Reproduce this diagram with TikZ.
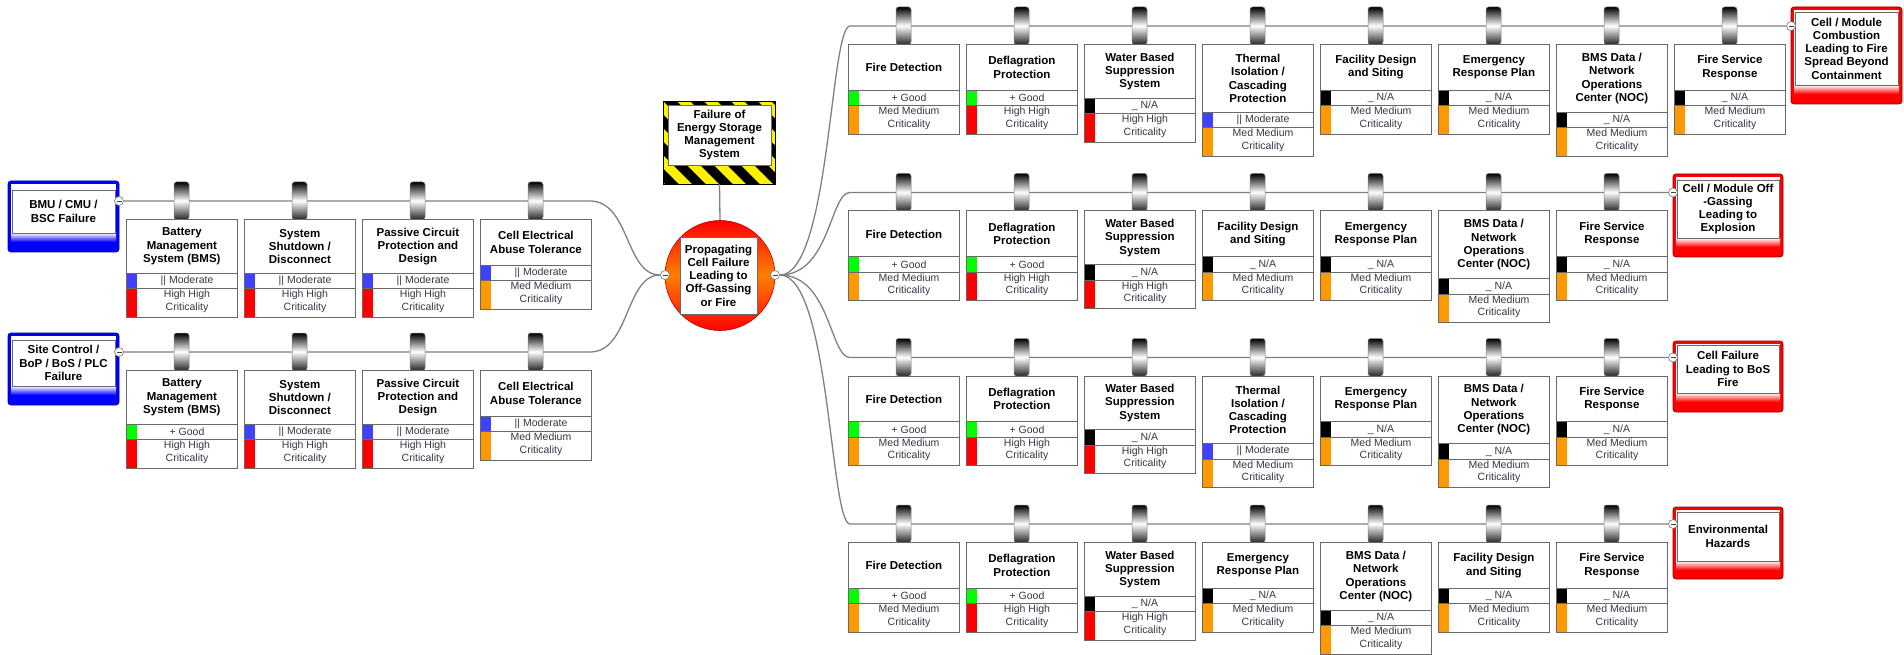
\documentclass[tikz,border=0pt]{standalone}
\usepackage{fontspec}
\setmainfont{Liberation Sans}
\usetikzlibrary{calc}
\definecolor{cgood}{RGB}{0,255,0}
\definecolor{cmod}{RGB}{64,64,255}
\definecolor{cna}{RGB}{0,0,0}
\definecolor{chigh}{RGB}{255,0,0}
\definecolor{cmed}{RGB}{255,153,0}
\definecolor{linec}{RGB}{128,128,128}
\definecolor{boxline}{RGB}{105,105,105}
\definecolor{rowtext}{RGB}{55,55,70}
\definecolor{evblue}{RGB}{0,0,255}
\definecolor{evred}{RGB}{255,0,0}
\tikzset{
  conn/.style={draw=linec, line width=1.3pt},
  titlebox/.style={draw=boxline, fill=white, line width=0.8pt, anchor=north west,
    minimum width=111pt, inner sep=1pt, align=center,
    font=\fontsize{11.5}{13.3}\selectfont\bfseries},
  rowtxt/.style={font=\fontsize{10.5}{12.3}\selectfont, text=rowtext, align=center, inner sep=0pt},
  evtext/.style={font=\fontsize{11.5}{13.3}\selectfont\bfseries, align=center, inner sep=1pt},
  knob/.style={inner sep=0pt, minimum width=15pt, minimum height=37.5pt, rounded corners=2.5pt,
    top color=black, bottom color=black!85, middle color=white, draw=gray, line width=0.5pt},
  minusc/.style={circle, draw=gray, fill=white, minimum size=9pt, inner sep=0pt, line width=0.7pt,
    path picture={\draw[black!75, line width=0.8pt]
      ($(path picture bounding box.west)+(2pt,0)$) -- ($(path picture bounding box.east)+(-2pt,0)$);}},
}
% #1 name, #2 x, #3 line y, #4 title height, #5 title, #6 eff colour, #7 eff text, #8 crit colour, #9 crit text
\newcommand\barrier[9]{%
  \begin{scope}[shift={(#2,#3)}]
    \pgfmathsetmacro\ya{18+#4}%
    \pgfmathsetmacro\yb{\ya+15.5}%
    \pgfmathsetmacro\yc{\ya+44}%
    \pgfmathsetmacro\ymb{(\ya+\yb)/2}%
    \pgfmathsetmacro\ymc{(\yb+\yc)/2-1.5}%
    \node[knob] (#1k) at (55.5,-0.25) {};
    \node[titlebox, minimum height=#4pt] (#1) at (0,18) {#5};
    \fill[white] (0,\ya) rectangle (111,\yc);
    \fill[#6] (0,\ya) rectangle (11,\yb);
    \fill[#8] (0,\yb) rectangle (11,\yc);
    \draw[boxline, line width=0.8pt] (0,\ya) rectangle (111,\yc) (0,\yb) -- (111,\yb);
    \node[rowtxt] (#1e) at (61,\ymb) {#7};
    \node[rowtxt] (#1c) at (61,\ymc) {#9};
  \end{scope}}
% #1 name #2 x1 #3 y1 #4 x2 #5 y2 #6 inner top #7 inner bottom #8 colour #9 text
\newcommand\eventbox[9]{%
  \fill[#8, rounded corners=3pt] (#2,#3) rectangle (#4,#5);
  \fill[white] ({#2+3},{#3+3}) rectangle ({#4-3},#7);
  \pgfmathsetmacro\shw{#4-#2-6}%
  \node[inner sep=0pt, outer sep=0pt, minimum width=\shw pt, minimum height=9pt,
    top color=white, bottom color=#8] (#1s) at ({(#2+#4)/2},{#7+4.5}) {};
  \draw[#8!55!black, rounded corners=3pt, line width=0.7pt] (#2,#3) rectangle (#4,#5);
  \pgfmathsetmacro\evw{#4-#2-8}%
  \pgfmathsetmacro\evh{#7-#6}%
  \node[evtext, draw=boxline, fill=white, line width=0.8pt, minimum width=\evw pt, minimum height=\evh pt]
    (#1) at ({(#2+#4)/2},{(#6+#7)/2}) {#9};}
\begin{document}
\begin{tikzpicture}[x=1pt, y=-1pt]
\useasboundingbox (0,0) rectangle (1904,655);

% ---------- threats ----------
\eventbox{t1}{8}{181}{119}{252}{190}{233}{evblue}{BMU / CMU /\\BSC Failure}
\eventbox{t2}{8}{333}{119}{405}{340}{386}{evblue}{Site Control /\\BoP / BoS / PLC\\Failure}

% ---------- consequences ----------
\eventbox{c1}{1791}{7}{1902}{104}{12}{85}{evred}{Cell / Module\\Combustion\\Leading to Fire\\Spread Beyond\\Containment}
\eventbox{c2}{1673}{174}{1783}{257}{180}{238}{evred}{Cell / Module Off\\-Gassing\\Leading to\\Explosion}
\eventbox{c3}{1673}{341}{1783}{412}{345}{393}{evred}{Cell Failure\\Leading to BoS\\Fire}
\eventbox{c4}{1673}{507}{1783}{579}{512}{561}{evred}{Environmental\\Hazards}

% ---------- hazard ----------
\node[inner sep=0pt, minimum width=111pt, minimum height=82pt] (haz) at (719.5,143) {};
\begin{scope}
  \clip (haz.north west) rectangle (haz.south east);
  \fill[yellow] (haz.north west) rectangle (haz.south east);
  \foreach \i in {-4,...,5}
    \fill[black] ({664+\i*27},102) -- ++(13.5,0) -- ++(82,82) -- ++(-13.5,0) -- cycle;
\end{scope}
\draw[black, line width=0.8pt] (haz.north west) rectangle (haz.south east);
\node[evtext, draw=boxline, fill=white, line width=0.8pt, minimum width=103pt, minimum height=60pt]
  (hazt) at (719.5,135) {Failure of\\Energy Storage\\Management\\System};

% ---------- top event ----------
\node[circle, minimum size=110pt, inner sep=0pt, top color=red, bottom color=red, middle color=orange,
  draw=red!75!black, line width=0.6pt] (ce) at (720,275.5) {};
\node[evtext, draw=boxline, fill=white, line width=0.8pt, minimum width=77pt, minimum height=77pt]
  (cet) at (718.5,275.5) {Propagating\\Cell Failure\\Leading to\\Off-Gassing\\or Fire};
\draw[conn] (haz.south) -- (ce.north);

% ---------- expand marks ----------
\node[minusc] (mt1) at (119,201) {};
\node[minusc] (mt2) at (119,352) {};
\node[minusc] (mcl) at (665,275) {};
\node[minusc] (mcr) at (775,275) {};
\node[minusc] (mc1) at (1791,26) {};
\node[minusc] (mc2) at (1673,192.5) {};
\node[minusc] (mc3) at (1673,357.5) {};
\node[minusc] (mc4) at (1673,524) {};

% ---------- connectors ----------
\draw[conn] (mt1) -- (590,201) .. controls (630,201) and (625,275) .. (mcl);
\draw[conn] (mt2) -- (590,352) .. controls (630,352) and (625,275) .. (mcl);
\draw[conn] (mcr) .. controls (830,275) and (830,26) .. (850,26) -- (mc1);
\draw[conn] (mcr) .. controls (830,275) and (830,192.5) .. (850,192.5) -- (mc2);
\draw[conn] (mcr) .. controls (830,275) and (830,357.5) .. (850,357.5) -- (mc3);
\draw[conn] (mcr) .. controls (830,275) and (830,524) .. (850,524) -- (mc4);

% ---------- left barriers ----------
\barrier{la1}{126}{201}{54}{Battery\\Management\\System (BMS)}{cmod}{|| Moderate}{chigh}{High High\\Criticality}
\barrier{la2}{244}{201}{54}{System\\Shutdown /\\Disconnect}{cmod}{|| Moderate}{chigh}{High High\\Criticality}
\barrier{la3}{362}{201}{54}{Passive Circuit\\Protection and\\Design}{cmod}{|| Moderate}{chigh}{High High\\Criticality}
\barrier{la4}{480}{201}{46}{Cell Electrical\\Abuse Tolerance}{cmod}{|| Moderate}{cmed}{Med Medium\\Criticality}

\barrier{lb1}{126}{352}{54}{Battery\\Management\\System (BMS)}{cgood}{+ Good}{chigh}{High High\\Criticality}
\barrier{lb2}{244}{352}{54}{System\\Shutdown /\\Disconnect}{cmod}{|| Moderate}{chigh}{High High\\Criticality}
\barrier{lb3}{362}{352}{54}{Passive Circuit\\Protection and\\Design}{cmod}{|| Moderate}{chigh}{High High\\Criticality}
\barrier{lb4}{480}{352}{46}{Cell Electrical\\Abuse Tolerance}{cmod}{|| Moderate}{cmed}{Med Medium\\Criticality}

% ---------- right barriers row 1 ----------
\barrier{ra1}{848}{26}{46}{Fire Detection}{cgood}{+ Good}{cmed}{Med Medium\\Criticality}
\barrier{ra2}{966}{26}{46}{Deflagration\\Protection}{cgood}{+ Good}{chigh}{High High\\Criticality}
\barrier{ra3}{1084}{26}{54}{Water Based\\Suppression\\System}{cna}{\_ N/A}{chigh}{High High\\Criticality}
\barrier{ra4}{1202}{26}{68}{Thermal\\Isolation /\\Cascading\\Protection}{cmod}{|| Moderate}{cmed}{Med Medium\\Criticality}
\barrier{ra5}{1320}{26}{46}{Facility Design\\and Siting}{cna}{\_ N/A}{cmed}{Med Medium\\Criticality}
\barrier{ra6}{1438}{26}{46}{Emergency\\Response Plan}{cna}{\_ N/A}{cmed}{Med Medium\\Criticality}
\barrier{ra7}{1556}{26}{68}{BMS Data /\\Network\\Operations\\Center (NOC)}{cna}{\_ N/A}{cmed}{Med Medium\\Criticality}
\barrier{ra8}{1674}{26}{46}{Fire Service\\Response}{cna}{\_ N/A}{cmed}{Med Medium\\Criticality}

% ---------- row 2 ----------
\barrier{rb1}{848}{192.5}{46}{Fire Detection}{cgood}{+ Good}{cmed}{Med Medium\\Criticality}
\barrier{rb2}{966}{192.5}{46}{Deflagration\\Protection}{cgood}{+ Good}{chigh}{High High\\Criticality}
\barrier{rb3}{1084}{192.5}{54}{Water Based\\Suppression\\System}{cna}{\_ N/A}{chigh}{High High\\Criticality}
\barrier{rb4}{1202}{192.5}{46}{Facility Design\\and Siting}{cna}{\_ N/A}{cmed}{Med Medium\\Criticality}
\barrier{rb5}{1320}{192.5}{46}{Emergency\\Response Plan}{cna}{\_ N/A}{cmed}{Med Medium\\Criticality}
\barrier{rb6}{1438}{192.5}{68}{BMS Data /\\Network\\Operations\\Center (NOC)}{cna}{\_ N/A}{cmed}{Med Medium\\Criticality}
\barrier{rb7}{1556}{192.5}{46}{Fire Service\\Response}{cna}{\_ N/A}{cmed}{Med Medium\\Criticality}

% ---------- row 3 ----------
\barrier{rc1}{848}{357.5}{46}{Fire Detection}{cgood}{+ Good}{cmed}{Med Medium\\Criticality}
\barrier{rc2}{966}{357.5}{46}{Deflagration\\Protection}{cgood}{+ Good}{chigh}{High High\\Criticality}
\barrier{rc3}{1084}{357.5}{54}{Water Based\\Suppression\\System}{cna}{\_ N/A}{chigh}{High High\\Criticality}
\barrier{rc4}{1202}{357.5}{68}{Thermal\\Isolation /\\Cascading\\Protection}{cmod}{|| Moderate}{cmed}{Med Medium\\Criticality}
\barrier{rc5}{1320}{357.5}{46}{Emergency\\Response Plan}{cna}{\_ N/A}{cmed}{Med Medium\\Criticality}
\barrier{rc6}{1438}{357.5}{68}{BMS Data /\\Network\\Operations\\Center (NOC)}{cna}{\_ N/A}{cmed}{Med Medium\\Criticality}
\barrier{rc7}{1556}{357.5}{46}{Fire Service\\Response}{cna}{\_ N/A}{cmed}{Med Medium\\Criticality}

% ---------- row 4 ----------
\barrier{rd1}{848}{524}{46}{Fire Detection}{cgood}{+ Good}{cmed}{Med Medium\\Criticality}
\barrier{rd2}{966}{524}{46}{Deflagration\\Protection}{cgood}{+ Good}{chigh}{High High\\Criticality}
\barrier{rd3}{1084}{524}{54}{Water Based\\Suppression\\System}{cna}{\_ N/A}{chigh}{High High\\Criticality}
\barrier{rd4}{1202}{524}{46}{Emergency\\Response Plan}{cna}{\_ N/A}{cmed}{Med Medium\\Criticality}
\barrier{rd5}{1320}{524}{68}{BMS Data /\\Network\\Operations\\Center (NOC)}{cna}{\_ N/A}{cmed}{Med Medium\\Criticality}
\barrier{rd6}{1438}{524}{46}{Facility Design\\and Siting}{cna}{\_ N/A}{cmed}{Med Medium\\Criticality}
\barrier{rd7}{1556}{524}{46}{Fire Service\\Response}{cna}{\_ N/A}{cmed}{Med Medium\\Criticality}
\end{tikzpicture}
\end{document}
